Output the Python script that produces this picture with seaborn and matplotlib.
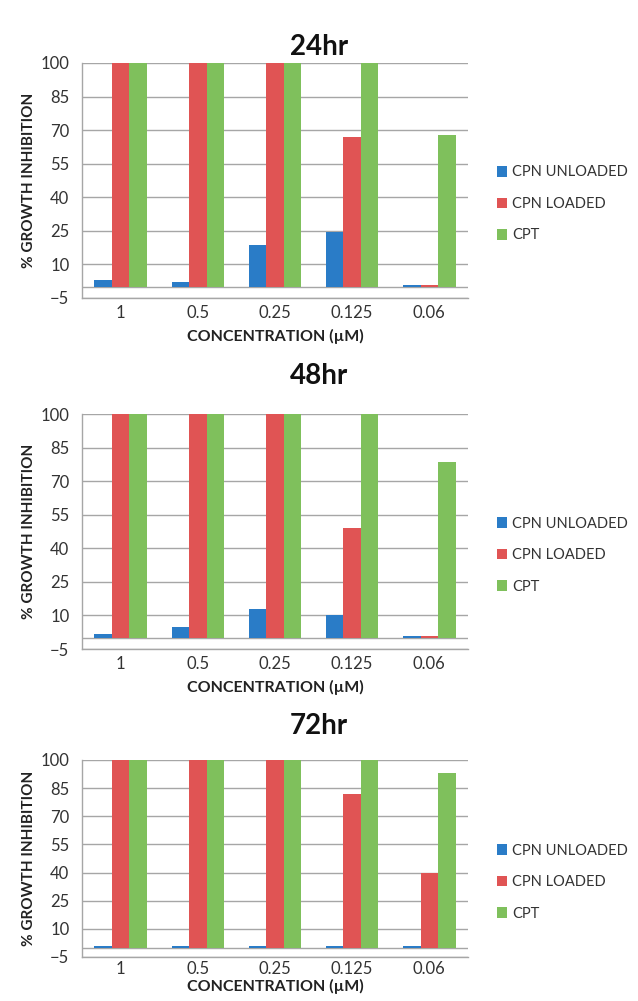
import numpy as np
import pandas as pd
import matplotlib
matplotlib.use("Agg")
import matplotlib.pyplot as plt
import seaborn as sns

# data
concentrations = ["1", "0.5", "0.25", "0.125", "0.06"]
series_names = ["CPN UNLOADED", "CPN LOADED", "CPT"]
panel_titles = ["24hr", "48hr", "72hr"]

unloaded_24 = [3.2, 2.3, 18.7, 24.6, 0.8]
loaded_24 = [100, 100, 100, 67, 0.8]
cpt_24 = [100, 100, 100, 100, 68]

unloaded_48 = [1.9, 4.7, 12.8, 10.2, 0.8]
loaded_48 = [100, 100, 100, 48.9, 0.8]
cpt_48 = [100, 100, 100, 100, 78.6]

unloaded_72 = [0.8, 0.8, 0.8, 0.8, 0.8]
loaded_72 = [100, 100, 100, 81.7, 39.5]
cpt_72 = [100, 100, 100, 100, 93]

yticks = [-5, 10, 25, 40, 55, 70, 85, 100]
colors = ["#2a7cc7", "#e05454", "#7fc05c"]

sns.set_style("white")
plt.rcParams['font.family'] = ['Lato', 'DejaVu Sans']

fig = plt.figure(figsize=(6.38, 10.01), dpi=100)

# axes rectangles in figure fractions (left, bottom, width, height)
rects = [
    (0.1285, 0.7023, 0.605, 0.2348),
    (0.1285, 0.3516, 0.605, 0.2348),
    (0.1285, 0.0440, 0.605, 0.1968),
]
title_y = [0.953, 0.624, 0.275]
legend_y = [0.40, 0.40, 0.38]
xlabel_pad = [6, 6, 1]
xtick_pad = [5, 5, 3]

panels = [
    (unloaded_24, loaded_24, cpt_24),
    (unloaded_48, loaded_48, cpt_48),
    (unloaded_72, loaded_72, cpt_72),
]

for i, (rect, title, vals) in enumerate(zip(rects, panel_titles, panels)):
    rows = []
    for name, v in zip(series_names, vals):
        for c, val in zip(concentrations, v):
            rows.append({"conc": c, "series": name, "value": val})
    df = pd.DataFrame(rows)

    ax = fig.add_axes(rect)
    sns.barplot(data=df, x="conc", y="value", hue="series", order=concentrations,
                hue_order=series_names, palette=colors, width=0.68,
                saturation=1, errorbar=None, ax=ax, zorder=3, linewidth=0)
    ax.set_ylim(-5, 100)
    ax.set_xlim(-0.5, 4.5)
    ax.set_yticks(yticks)
    ax.yaxis.grid(True, color="#a6a6a6", linewidth=1.0, zorder=0)
    ax.axhline(0, color="#a6a6a6", linewidth=1.0, zorder=1)
    for side in ["top", "right"]:
        ax.spines[side].set_visible(False)
    for side in ["left", "bottom"]:
        ax.spines[side].set_color("#a6a6a6")
        ax.spines[side].set_linewidth(1.0)
    ax.tick_params(axis="y", length=5, color="#a6a6a6", labelsize=12, pad=4,
                   labelcolor="#333333")
    ax.tick_params(axis="x", length=0, labelsize=12, pad=xtick_pad[i],
                   labelcolor="#333333")
    ax.set_xlabel("CONCENTRATION (µM)", fontsize=11.5, fontweight="bold",
                  color="#222222", labelpad=xlabel_pad[i])
    ax.set_ylabel("% GROWTH INHIBITION", fontsize=11, fontweight="bold",
                  color="#222222", labelpad=3)
    leg = ax.legend(loc="center left", bbox_to_anchor=(1.04, legend_y[i]),
                    frameon=False, handlelength=0.75, handleheight=0.75,
                    handletextpad=0.3, labelspacing=1.2, fontsize=10.5)
    for t in leg.get_texts():
        t.set_color("#333333")
    fig.text(0.5, title_y[i], title, ha="center", va="center", fontsize=20,
             fontweight="bold", color="#111111")

fig.savefig("out.png", dpi=100)
